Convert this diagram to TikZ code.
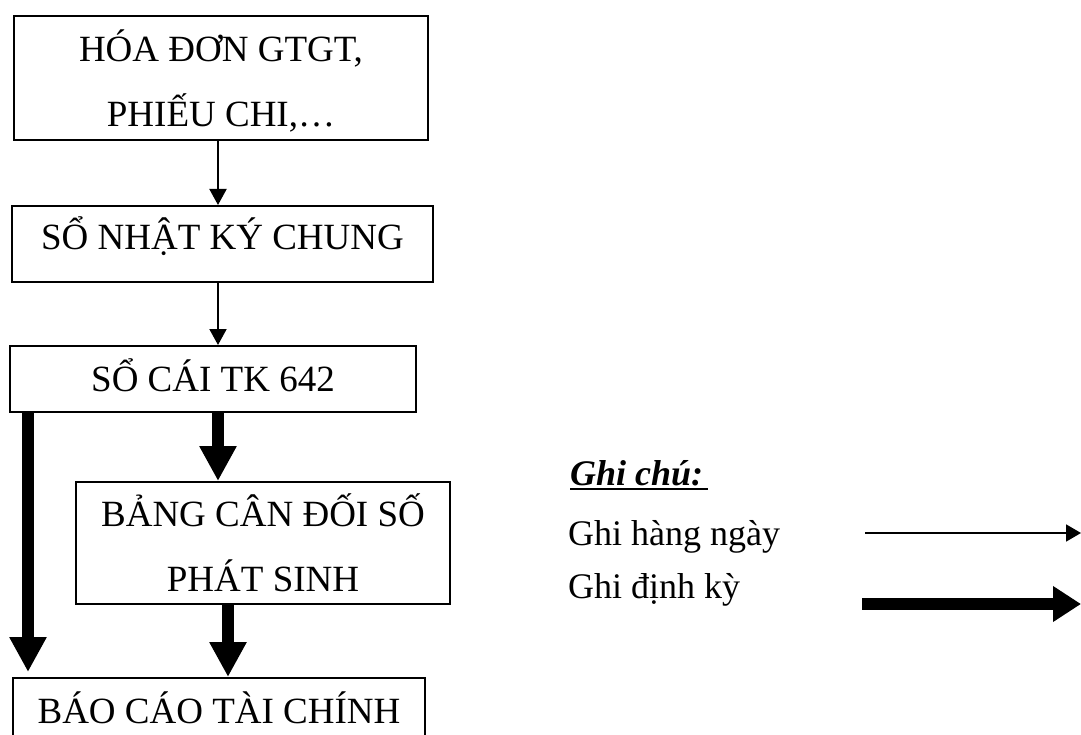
\documentclass[tikz,border=0pt]{standalone}
\usepackage{fontspec}
\setmainfont{Liberation Serif}
\usetikzlibrary{arrows.meta}
\begin{document}
\begin{tikzpicture}[x=1pt,y=-1pt,
  box/.style={draw,line width=2pt,inner sep=0pt,align=center,
    font=\fontsize{37}{65}\selectfont,text depth=0pt,text height=24pt},
  daily/.style={line width=2pt,-{Triangle[length=16pt,width=17pt]}},
  periodic/.style={line width=11.5pt,-{Triangle[length=35pt,width=35pt]}},
  legtext/.style={anchor=base west,inner sep=0pt,font=\fontsize{36}{40}\selectfont}]
\useasboundingbox (0,0) rectangle (1081,735);
\clip (0,0) rectangle (1081,735);

% flow of documents
\node[box,minimum width=414pt,minimum height=124pt,text height=98pt] (hd) at (221,78)
  {HÓA ĐƠN GTGT,\\PHIẾU CHI,…};
\node[box,minimum width=421pt,minimum height=76pt,text height=12pt] (nk) at (222.5,244)
  {SỔ NHẬT KÝ CHUNG};
\node[box,minimum width=406pt,minimum height=66pt] (sc) at (213,379)
  {SỔ CÁI TK 642};
\node[box,minimum width=374pt,minimum height=122pt,text height=96pt] (bs) at (263,543)
  {BẢNG CÂN ĐỐI SỐ\\PHÁT SINH};
\node[box,minimum width=412pt,minimum height=66pt] (bc) at (219,711)
  {BÁO CÁO TÀI CHÍNH};

\draw[daily] (hd.south -| 218,0) -- (nk.north -| 218,0);
\draw[daily] (nk.south -| 218,0) -- (sc.north -| 218,0);
\draw[periodic,shorten >=5pt] (sc.south -| 28,0) -- (bc.north -| 28,0);
\draw[periodic] (sc.south -| 218,0) -- (bs.north -| 218,0);
\draw[periodic] (bs.south -| 228,0) -- (bc.north -| 228,0);

% legend
\node[legtext,font=\fontsize{36}{40}\selectfont\bfseries\itshape] (gc) at (570,485) {Ghi chú:};
\draw[line width=2.5pt] ([yshift=-4pt]gc.base west) -- ([yshift=-4pt,xshift=5pt]gc.base east);
\node[legtext] (lgd) at (568,545) {Ghi hàng ngày};
\node[legtext] (lgp) at (568,598) {Ghi định kỳ};
\coordinate (d0) at (865,533);
\coordinate (d1) at (1081,533);
\draw[line width=1.8pt,-{Triangle[length=15pt,width=17pt]}] (d0) -- (d1);
\coordinate (p0) at (862,604);
\coordinate (p1) at (1081,604);
\draw[line width=12pt,-{Triangle[length=28pt,width=34pt]}] (p0) -- (p1);
\end{tikzpicture}
\end{document}
